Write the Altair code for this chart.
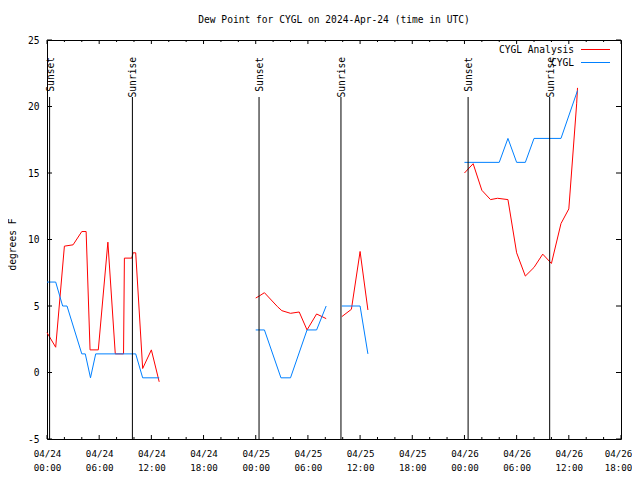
import altair as alt
import pandas as pd

TITLE = "Dew Point for CYGL on 2024-Apr-24 (time in UTC)"
FONT = "DejaVu Sans Mono"

# hours since 2024-04-24 00:00 UTC
ana_hours = [0.0, 1.0, 2.0, 3.0, 4.0, 4.5, 4.95, 5.9, 7.0, 7.85, 8.8, 8.9, 9.75, 9.9, 10.2, 11.0, 12.0, 12.9,
             24.0, 24.4, 25.0, 26.5, 27.0, 28.0, 29.0, 29.9, 31.0, 32.1,
             33.9, 35.0, 36.0, 36.9,
             48.0, 49.0, 50.0, 51.0, 51.8, 53.0, 54.0, 55.0, 56.0, 57.0, 58.0, 59.1, 60.0, 60.9, 61.0]
ana_values = [3.0, 1.9, 9.5, 9.6, 10.6, 10.6, 1.7, 1.7, 9.8, 1.4, 1.4, 8.6, 8.6, 9.0, 9.0, 0.3, 1.7, -0.7,
              5.6, 5.75, 6.0, 4.95, 4.65, 4.45, 4.55, 3.2, 4.4, 4.05,
              4.2, 4.75, 9.1, 4.7,
              15.0, 15.7, 13.7, 13.0, 13.1, 13.0, 9.0, 7.25, 7.9, 8.9, 8.2, 11.2, 12.3, 20.2, 21.4]
ana_segments = [1] * 18 + [2] * 10 + [3] * 4 + [4] * 15

obs_hours = [0.0, 1.0, 1.8, 2.3, 4.0, 4.4, 5.0, 5.6, 10.2, 11.0, 12.9,
             24.0, 25.0, 26.9, 28.0, 29.9, 31.0, 32.1,
             33.9, 36.0, 36.9,
             48.0, 52.0, 53.0, 54.0, 55.0, 56.0, 59.1, 61.0]
obs_values = [6.8, 6.8, 5.0, 5.0, 1.4, 1.4, -0.4, 1.4, 1.4, -0.4, -0.4,
              3.2, 3.2, -0.4, -0.4, 3.2, 3.2, 5.0,
              5.0, 5.0, 1.4,
              15.8, 15.8, 17.6, 15.8, 15.8, 17.6, 17.6, 21.2]
obs_segments = [1] * 11 + [2] * 7 + [3] * 3 + [4] * 8

sun_hours = [0.3, 9.82, 24.38, 33.8, 48.42, 57.8]
sun_labels = ["Sunset", "Sunrise", "Sunset", "Sunrise", "Sunset", "Sunrise"]

y_ticks = [-5, 0, 5, 10, 15, 20, 25]
x_major = [0, 6, 12, 18, 24, 30, 36, 42, 48, 54, 60, 66]
x_minor = [2, 4, 8, 10, 14, 16, 20, 22, 26, 28, 32, 34, 38, 40, 44, 46, 50, 52, 56, 58, 62, 64]

series_names = ["CYGL Analysis", "CYGL"]
series_colors = ["#ff0000", "#0080ff"]

W, H = 574, 399

lines_df = pd.concat([
    pd.DataFrame({"h": ana_hours, "v": ana_values, "seg": ana_segments, "series": series_names[0]}),
    pd.DataFrame({"h": obs_hours, "v": obs_values, "seg": obs_segments, "series": series_names[1]}),
], ignore_index=True)
lines_df["key"] = lines_df["series"] + "-" + lines_df["seg"].astype(str)

sun_df = pd.DataFrame({"h": sun_hours, "label": sun_labels})
yt_df = pd.DataFrame({"v": y_ticks})
xmaj_df = pd.DataFrame({"h": x_major})
xmin_df = pd.DataFrame({"h": x_minor})

xscale = alt.Scale(domain=[0, 66], nice=False, zero=False)
yscale = alt.Scale(domain=[-5, 25], nice=False, zero=False)
cscale = alt.Scale(domain=series_names, range=series_colors)

x_label_expr = ("['04/' + (24 + floor(datum.value / 24)), "
                "(datum.value % 24 < 10 ? '0' : '') + (datum.value % 24) + ':00']")

lines = alt.Chart(lines_df).mark_line(strokeWidth=1).encode(
    x=alt.X("h:Q", scale=xscale,
            axis=alt.Axis(values=x_major, labelExpr=x_label_expr, ticks=False, domain=False,
                          grid=False, title=None, labelPadding=10, labelLineHeight=14,
                          labelFontSize=9.2, labelBaseline="top", labelFlush=False,
                          labelOffset=alt.ExprRef("datum.value == 66 ? -3 : 0"))),
    y=alt.Y("v:Q", scale=yscale,
            axis=alt.Axis(values=y_ticks, labelExpr="'' + datum.value", ticks=False, domain=False,
                          grid=False, title="degrees F", labelPadding=8, labelFontSize=9.6,
                          titleX=-35, titleY=204, titleAngle=270, titleAlign="center",
                          titleBaseline="middle", titleFontSize=9.6)),
    color=alt.Color("series:N", scale=cscale, legend=None),
    detail="key:N",
)

sun_rules = alt.Chart(sun_df).mark_rule(color="black", strokeWidth=1).encode(
    x=alt.X("h:Q", scale=xscale), y=alt.value(57), y2=alt.value(H))
sun_text = alt.Chart(sun_df).mark_text(angle=270, align="right", baseline="middle",
                                       font=FONT, fontSize=9.6, color="black", dy=1).encode(
    x=alt.X("h:Q", scale=xscale), y=alt.value(17), text="label:N")

yt_left = alt.Chart(yt_df).mark_rule(color="black").encode(
    y=alt.Y("v:Q", scale=yscale), x=alt.value(0), x2=alt.value(5))
yt_right = alt.Chart(yt_df).mark_rule(color="black").encode(
    y=alt.Y("v:Q", scale=yscale), x=alt.value(W - 5), x2=alt.value(W))
xmaj_b = alt.Chart(xmaj_df).mark_rule(color="black").encode(
    x=alt.X("h:Q", scale=xscale), y=alt.value(H - 4), y2=alt.value(H))
xmaj_t = alt.Chart(xmaj_df).mark_rule(color="black").encode(
    x=alt.X("h:Q", scale=xscale), y=alt.value(0), y2=alt.value(4))
xmin_b = alt.Chart(xmin_df).mark_rule(color="black").encode(
    x=alt.X("h:Q", scale=xscale), y=alt.value(H - 2), y2=alt.value(H))
xmin_t = alt.Chart(xmin_df).mark_rule(color="black").encode(
    x=alt.X("h:Q", scale=xscale), y=alt.value(0), y2=alt.value(2))

legend_layers = []
for i, name in enumerate(series_names):
    ldf = pd.DataFrame({"series": [name]})
    ty = 10 + 13 * i
    legend_layers.append(
        alt.Chart(ldf).mark_text(align="right", baseline="middle", font=FONT, fontSize=9.6,
                                 color="black").encode(x=alt.value(527), y=alt.value(ty), text="series:N"))
    legend_layers.append(
        alt.Chart(ldf).mark_rule(strokeWidth=1).encode(
            x=alt.value(534), x2=alt.value(563), y=alt.value(ty - 0.5),
            color=alt.Color("series:N", scale=cscale, legend=None)))

chart = alt.layer(
    lines, sun_rules, sun_text, yt_left, yt_right, xmaj_b, xmaj_t, xmin_b, xmin_t,
    *legend_layers
).properties(
    width=W, height=H,
    title=alt.TitleParams(TITLE, font=FONT, fontSize=9.6, fontWeight="normal", color="black",
                          anchor="middle", offset=10),
    autosize=alt.AutoSizeParams(type="none"),
    padding={"left": 39, "top": 32, "right": 11, "bottom": 33},
    background="white",
).configure_view(stroke="black", strokeWidth=1).configure_axis(
    labelFont=FONT, titleFont=FONT, labelColor="black", titleColor="black", titleFontWeight="normal"
)

chart.save("out.html", embed_options={"renderer": "svg", "actions": False})
